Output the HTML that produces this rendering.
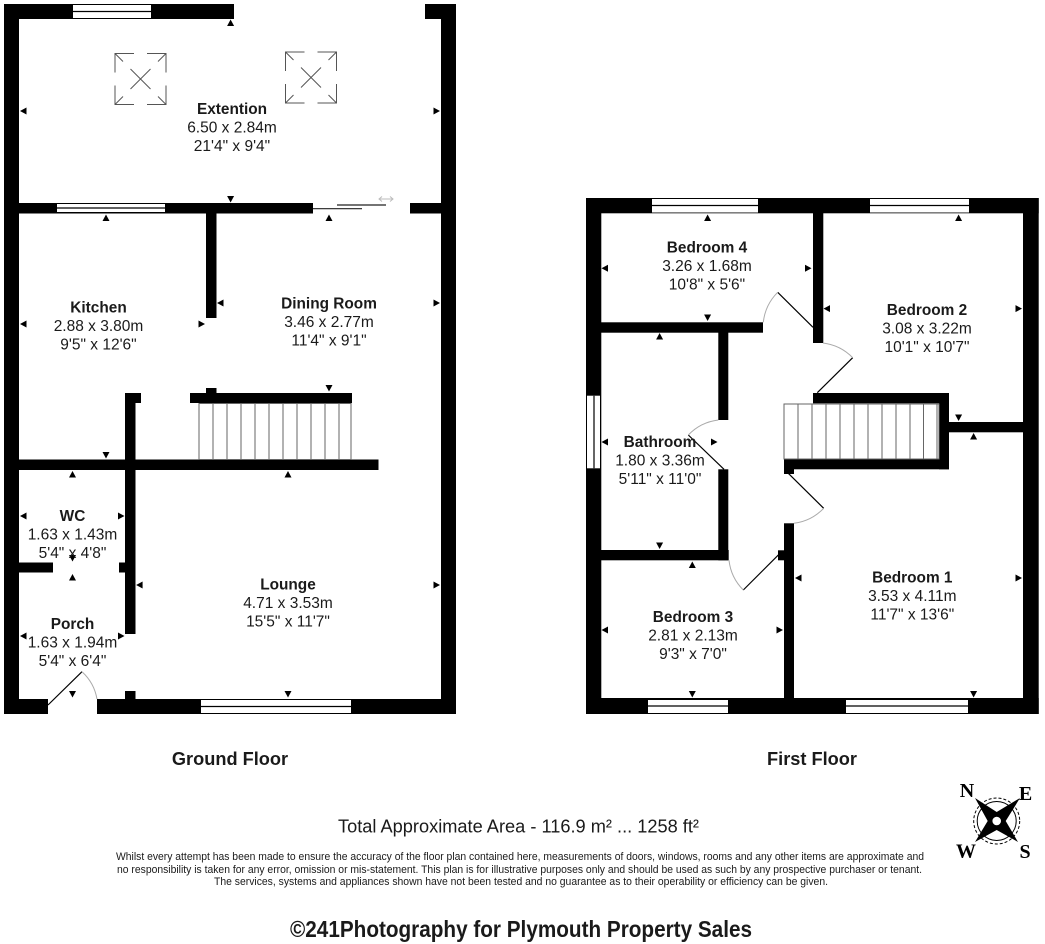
<!DOCTYPE html>
<html><head><meta charset="utf-8"><title>Floor Plan</title>
<style>
html,body{margin:0;padding:0;background:#fff;width:1045px;height:944px;overflow:hidden}
svg{display:block}
text{font-family:"Liberation Sans",sans-serif;text-anchor:middle;fill:#1a1a1a}
.b{font-weight:bold;font-size:15.4px}
.r{font-size:15.5px}
.c{font-family:"Liberation Serif",serif;font-weight:bold;font-size:20px;fill:#000}
</style></head><body>
<svg width="1045" height="944" viewBox="0 0 1045 944" xmlns="http://www.w3.org/2000/svg">
<defs>
<path id="u" d="M-3.5 3H3.5L0-3.5Z"/>
<path id="d" d="M-3.5-3H3.5L0 3.5Z"/>
<path id="l" d="M3-3.5V3.5L-3.5 0Z"/>
<path id="R" d="M-3-3.5V3.5L3.5 0Z"/>
<g id="sky" fill="none" stroke="#555" stroke-width="1">
<path d="M0 19V0H19M32 0H51V19M51 32V51H32M19 51H0V32"/>
<path d="M0 0L8 8M51 0L43 8M0 51L8 43M51 51L43 43M15.5 15.5L35.5 35.5M35.5 15.5L15.5 35.5"/>
</g>
</defs>
<rect width="1045" height="944" fill="#fff"/>

<!-- Ground floor walls -->
<g fill="#000">
<rect x="4" y="4" width="230" height="15"/>
<rect x="425" y="4" width="31" height="15"/>
<rect x="4" y="4" width="15" height="710"/>
<rect x="441" y="4" width="15" height="710"/>
<rect x="19" y="203" width="294" height="10.5"/>
<rect x="410" y="203" width="31" height="10.5"/>
<rect x="206" y="213" width="10.5" height="105"/>
<rect x="190" y="393" width="162" height="10"/>
<rect x="206" y="388" width="10.5" height="6"/>
<rect x="19" y="459.5" width="359.5" height="10.5"/>
<rect x="125" y="393" width="10.5" height="241"/>
<rect x="125" y="393" width="16" height="10"/>
<rect x="19" y="562.5" width="34" height="10"/>
<rect x="119" y="562.5" width="7" height="10"/>
<rect x="4" y="699" width="44" height="15"/>
<rect x="97" y="699" width="359" height="15"/>
<rect x="125" y="691" width="10.5" height="9"/>
</g>
<!-- Ground windows -->
<g fill="#fff">
<rect x="73" y="5" width="78" height="13"/>
<rect x="57" y="204" width="108" height="8"/>
<rect x="201" y="700" width="150" height="13"/>
</g>
<g stroke="#000" stroke-width="1.2">
<path d="M73 11.5H151M57 208H165M201 706.5H351"/>
</g>
<!-- Sliding door -->
<path d="M313 208.7H362M337 205H386" stroke="#222" stroke-width="1.2" fill="none"/>
<path d="M379 199H393M382 196.5L379 199L382 201.5M390 196.5L393 199L390 201.5" stroke="#bbb" stroke-width="1" fill="none"/>
<!-- Skylights -->
<use href="#sky" x="115" y="53.5"/>
<use href="#sky" x="285.5" y="52"/>
<!-- Stairs ground -->
<g fill="none" stroke="#666" stroke-width="1">
<path d="M199 403.5H351V459.5H199Z"/>
<path d="M213 404V459M227 404V459M241 404V459M255 404V459M269 404V459M283 404V459M297 404V459M311 404V459M325 404V459M339 404V459"/>
</g>
<!-- Entrance door -->
<path d="M48 705L82 671.7" stroke="#000" stroke-width="1.2"/>
<path d="M82 671.7A48 48 0 0 1 97 699" stroke="#aaa" stroke-width="1" fill="none"/>

<!-- First floor walls -->
<g fill="#000">
<rect x="586" y="198" width="452.7" height="15.3"/>
<rect x="586" y="698" width="452.7" height="16"/>
<rect x="586" y="198" width="15.3" height="516"/>
<rect x="1023" y="198" width="15.7" height="516"/>
<rect x="813" y="213" width="10.3" height="130"/>
<rect x="601" y="322.3" width="162" height="10.4"/>
<rect x="718.3" y="332" width="10" height="88"/>
<rect x="718.3" y="469.3" width="10" height="91"/>
<rect x="601" y="550" width="127.7" height="10.3"/>
<rect x="813" y="393" width="136" height="10.3"/>
<rect x="939" y="393" width="10" height="76.3"/>
<rect x="784" y="459.3" width="165" height="10"/>
<rect x="784" y="469" width="10" height="5"/>
<rect x="949" y="422" width="74" height="10.3"/>
<rect x="784" y="523.3" width="10" height="175"/>
<rect x="778" y="550.3" width="7" height="10"/>
</g>
<!-- First windows -->
<g fill="#fff">
<rect x="652" y="199" width="106" height="13.5"/>
<rect x="870" y="199" width="99" height="13.5"/>
<rect x="648" y="700" width="80" height="13"/>
<rect x="846" y="700" width="122" height="13"/>
<rect x="587" y="395.7" width="13" height="72.6"/>
</g>
<g stroke="#000" stroke-width="1.2">
<path d="M652 205.5H758M870 205.5H969M648 706H728M846 706H968M594 395.7V468.3"/>
</g>
<!-- Stairs first -->
<g fill="none" stroke="#666" stroke-width="1">
<path d="M784 404H939V459H784Z"/>
<path d="M798 404V459M812 404V459M826 404V459M840 404V459M854 404V459M868 404V459M882 404V459M896 404V459M910 404V459M923.5 404V459M937 404V459"/>
</g>
<!-- Doors -->
<g stroke="#000" stroke-width="1.2" fill="none">
<path d="M777.7 292.3L813 327.3"/>
<path d="M817.3 392.7L852.7 357.7"/>
<path d="M688.3 435L724 469.3"/>
<path d="M788.3 473.3L823.7 508.3"/>
<path d="M743.3 590L779 554.3"/>
</g>
<g stroke="#aaa" stroke-width="1" fill="none">
<path d="M777.7 292.3A50 50 0 0 0 763.3 322.3"/>
<path d="M852.7 357.7A50 50 0 0 0 823 343"/>
<path d="M688.3 435A50 50 0 0 1 718.3 420"/>
<path d="M823.7 508.3A50 50 0 0 1 794 523.3"/>
<path d="M743.3 590A50 50 0 0 1 729 560.3"/>
</g>

<!-- Markers ground -->
<g fill="#000">
<use href="#u" x="230.6" y="23"/><use href="#l" x="23.5" y="111"/><use href="#R" x="436.5" y="111"/>
<use href="#d" x="230.6" y="199"/><use href="#u" x="106" y="218"/><use href="#u" x="329" y="218"/>
<use href="#l" x="220.5" y="303"/><use href="#R" x="436.5" y="303"/><use href="#l" x="23.5" y="324"/>
<use href="#R" x="201.5" y="324"/><use href="#d" x="329" y="388"/><use href="#d" x="106" y="455"/>
<use href="#u" x="72.5" y="474.5"/><use href="#u" x="288" y="474.5"/><use href="#l" x="23.5" y="516"/>
<use href="#R" x="121" y="516"/><use href="#l" x="139.6" y="585"/><use href="#R" x="436.5" y="585"/>
<use href="#d" x="72.5" y="558"/><use href="#u" x="72.5" y="577.5"/><use href="#l" x="23.5" y="636"/>
<use href="#R" x="121" y="636"/><use href="#d" x="72.5" y="694"/><use href="#d" x="288" y="694"/>
<!-- Markers first -->
<use href="#u" x="707.6" y="218"/><use href="#u" x="958.6" y="218"/><use href="#l" x="605" y="268.3"/>
<use href="#R" x="808" y="268.3"/><use href="#l" x="827" y="308.6"/><use href="#R" x="1018.5" y="308.6"/>
<use href="#d" x="707.6" y="317.5"/><use href="#u" x="659.6" y="336.5"/><use href="#l" x="605" y="442"/>
<use href="#R" x="714" y="442"/><use href="#d" x="958.6" y="417.5"/><use href="#u" x="973.6" y="436.5"/>
<use href="#l" x="798.5" y="578"/><use href="#R" x="1018.5" y="578"/><use href="#d" x="659.6" y="545.5"/>
<use href="#u" x="692.3" y="565"/><use href="#l" x="605" y="630"/><use href="#R" x="779.5" y="630"/>
<use href="#d" x="692.3" y="694"/><use href="#d" x="973.6" y="694"/>
</g>

<!-- Labels -->
<text class="b" x="232" y="114">Extention</text><text class="r" x="232" y="132.7">6.50 x 2.84m</text><text class="r" x="232" y="151">21'4" x 9'4"</text>
<text class="b" x="98.5" y="312.3">Kitchen</text><text class="r" x="98.5" y="331">2.88 x 3.80m</text><text class="r" x="98.5" y="349.3">9'5" x 12'6"</text>
<text class="b" x="329" y="308.5">Dining Room</text><text class="r" x="329" y="327">3.46 x 2.77m</text><text class="r" x="329" y="345.5">11'4" x 9'1"</text>
<text class="b" x="72.5" y="521">WC</text><text class="r" x="72.5" y="539.5">1.63 x 1.43m</text><text class="r" x="72.5" y="558">5'4" x 4'8"</text>
<text class="b" x="288" y="589.7">Lounge</text><text class="r" x="288" y="608">4.71 x 3.53m</text><text class="r" x="288" y="626.5">15'5" x 11'7"</text>
<text class="b" x="72.5" y="629">Porch</text><text class="r" x="72.5" y="647.5">1.63 x 1.94m</text><text class="r" x="72.5" y="666">5'4" x 6'4"</text>
<text class="b" x="707" y="252.7">Bedroom 4</text><text class="r" x="707" y="271">3.26 x 1.68m</text><text class="r" x="707" y="289.5">10'8" x 5'6"</text>
<text class="b" x="927" y="315">Bedroom 2</text><text class="r" x="927" y="333.5">3.08 x 3.22m</text><text class="r" x="927" y="352">10'1" x 10'7"</text>
<text class="b" x="660" y="447">Bathroom</text><text class="r" x="660" y="465.5">1.80 x 3.36m</text><text class="r" x="660" y="484">5'11" x 11'0"</text>
<text class="b" x="912.3" y="582.3">Bedroom 1</text><text class="r" x="912.3" y="600.8">3.53 x 4.11m</text><text class="r" x="912.3" y="619.3">11'7" x 13'6"</text>
<text class="b" x="693" y="622">Bedroom 3</text><text class="r" x="693" y="640.5">2.81 x 2.13m</text><text class="r" x="693" y="659">9'3" x 7'0"</text>

<text x="230" y="765" font-size="18.2" font-weight="bold">Ground Floor</text>
<text x="812" y="765" font-size="18.2" font-weight="bold">First Floor</text>

<text x="518.5" y="832.5" font-size="18.5" textLength="361" lengthAdjust="spacingAndGlyphs">Total Approximate Area - 116.9 m² ... 1258 ft²</text>
<text x="520" y="860" font-size="11" textLength="808" lengthAdjust="spacingAndGlyphs">Whilst every attempt has been made to ensure the accuracy of the floor plan contained here, measurements of doors, windows, rooms and any other items are approximate and</text>
<text x="519.5" y="873" font-size="11" textLength="805" lengthAdjust="spacingAndGlyphs">no responsibility is taken for any error, omission or mis-statement. This plan is for illustrative purposes only and should be used as such by any prospective purchaser or tenant.</text>
<text x="521" y="885" font-size="11" textLength="614" lengthAdjust="spacingAndGlyphs">The services, systems and appliances shown have not been tested and no guarantee as to their operability or efficiency can be given.</text>
<text x="521" y="937" font-size="23" font-weight="bold" textLength="462" lengthAdjust="spacingAndGlyphs">©241Photography for Plymouth Property Sales</text>

<!-- Compass -->
<circle cx="996.7" cy="821" r="19.5" fill="none" stroke="#000" stroke-width="1"/>
<circle cx="996.7" cy="821" r="23" fill="none" stroke="#000" stroke-width="1" stroke-dasharray="3 2"/>
<path d="M975 798L996.7 812L1020 798L1005.7 821L1018 842L996.7 830L975 842L987.7 821Z" fill="#000"/>
<circle cx="996.7" cy="821" r="4.3" fill="#fff"/>
<text class="c" x="967" y="797">N</text>
<text class="c" x="1025.5" y="800">E</text>
<text class="c" x="966" y="857.5">W</text>
<text class="c" x="1025" y="858">S</text>
</svg>
</body></html>
